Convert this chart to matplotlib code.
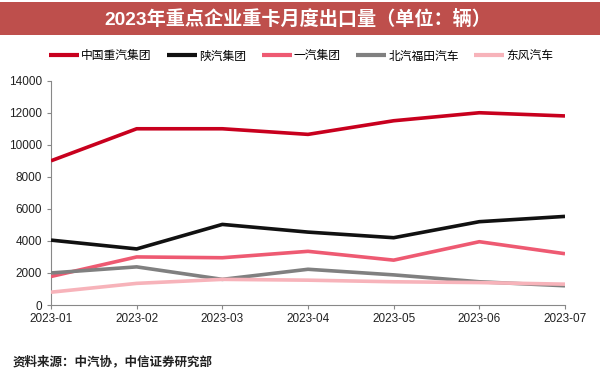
import matplotlib
matplotlib.use("Agg")
import matplotlib.pyplot as plt
from matplotlib.patches import Rectangle

plt.rcParams['font.family'] = ['Liberation Sans', 'Noto Sans CJK SC', 'DejaVu Sans']

months = ["2023-01", "2023-02", "2023-03", "2023-04", "2023-05", "2023-06", "2023-07"]
series_names = ["中国重汽集团", "陕汽集团", "一汽集团", "北汽福田汽车", "东风汽车"]
sinotruk = [9000, 11000, 11000, 10650, 11500, 12000, 11800]
shaanxi = [4050, 3500, 5030, 4550, 4200, 5200, 5530]
faw = [1780, 3000, 2950, 3350, 2800, 3950, 3200]
foton = [2000, 2380, 1600, 2230, 1880, 1450, 1200]
dongfeng = [800, 1350, 1600, 1550, 1450, 1400, 1300]
yticks = [0, 2000, 4000, 6000, 8000, 10000, 12000, 14000]

values = [sinotruk, shaanxi, faw, foton, dongfeng]
colors = ["#C8001E", "#111111", "#EE5A72", "#808080", "#F7B3BA"]

fig = plt.figure(figsize=(6, 3.75), dpi=100)
# title bar
fig.patches.append(Rectangle((0, 1 - 35/375), 1, 33/375, transform=fig.transFigure,
                             facecolor="#BE4F4C", edgecolor="none", zorder=0))
fig.text(0.497, 1 - 19/375, "2023年重点企业重卡月度出口量（单位：辆）", color="white",
         ha="center", va="center", fontsize=13.8, fontweight="bold",
         family=['Liberation Sans', 'Noto Sans CJK SC', 'DejaVu Sans'])

ax = fig.add_axes([51/600, 1 - 305/375, (565 - 51)/600, (305 - 80.7)/375])
x = list(range(len(months)))
for name, v, c in zip(series_names, values, colors):
    ax.plot(x, v, color=c, lw=2.6, label=name, solid_capstyle="butt", zorder=3)

ax.set_xlim(0, len(months) - 1)
ax.set_ylim(0, 14000)
ax.set_yticks(yticks)
ax.set_xticks(x)
ax.set_xticklabels(months)
for s in ["top", "right"]:
    ax.spines[s].set_visible(False)
for s in ["left", "bottom"]:
    ax.spines[s].set_color("#888888")
    ax.spines[s].set_linewidth(0.8)
ax.tick_params(axis="both", colors="#888888", labelcolor="#222222", labelsize=8.5,
               length=3, width=0.8, direction="out")
ax.tick_params(axis="x", pad=3)

leg = fig.legend(loc="center", bbox_to_anchor=(0.502, 1 - 56/375), ncol=5, frameon=False,
                 handlelength=2.55, handletextpad=0.17, columnspacing=1.3,
                 prop={'family': ['Noto Sans CJK SC', 'DejaVu Sans'], 'size': 8.5})
for line in leg.get_lines():
    line.set_linewidth(3)

fig.text(13/600, 1 - 362/375, "资料来源：中汽协，中信证券研究部", ha="left", va="center",
         fontsize=9.0, fontweight="bold", color="#222222",
         family=['Noto Sans CJK SC', 'DejaVu Sans'])

fig.savefig("out.png", dpi=100)
